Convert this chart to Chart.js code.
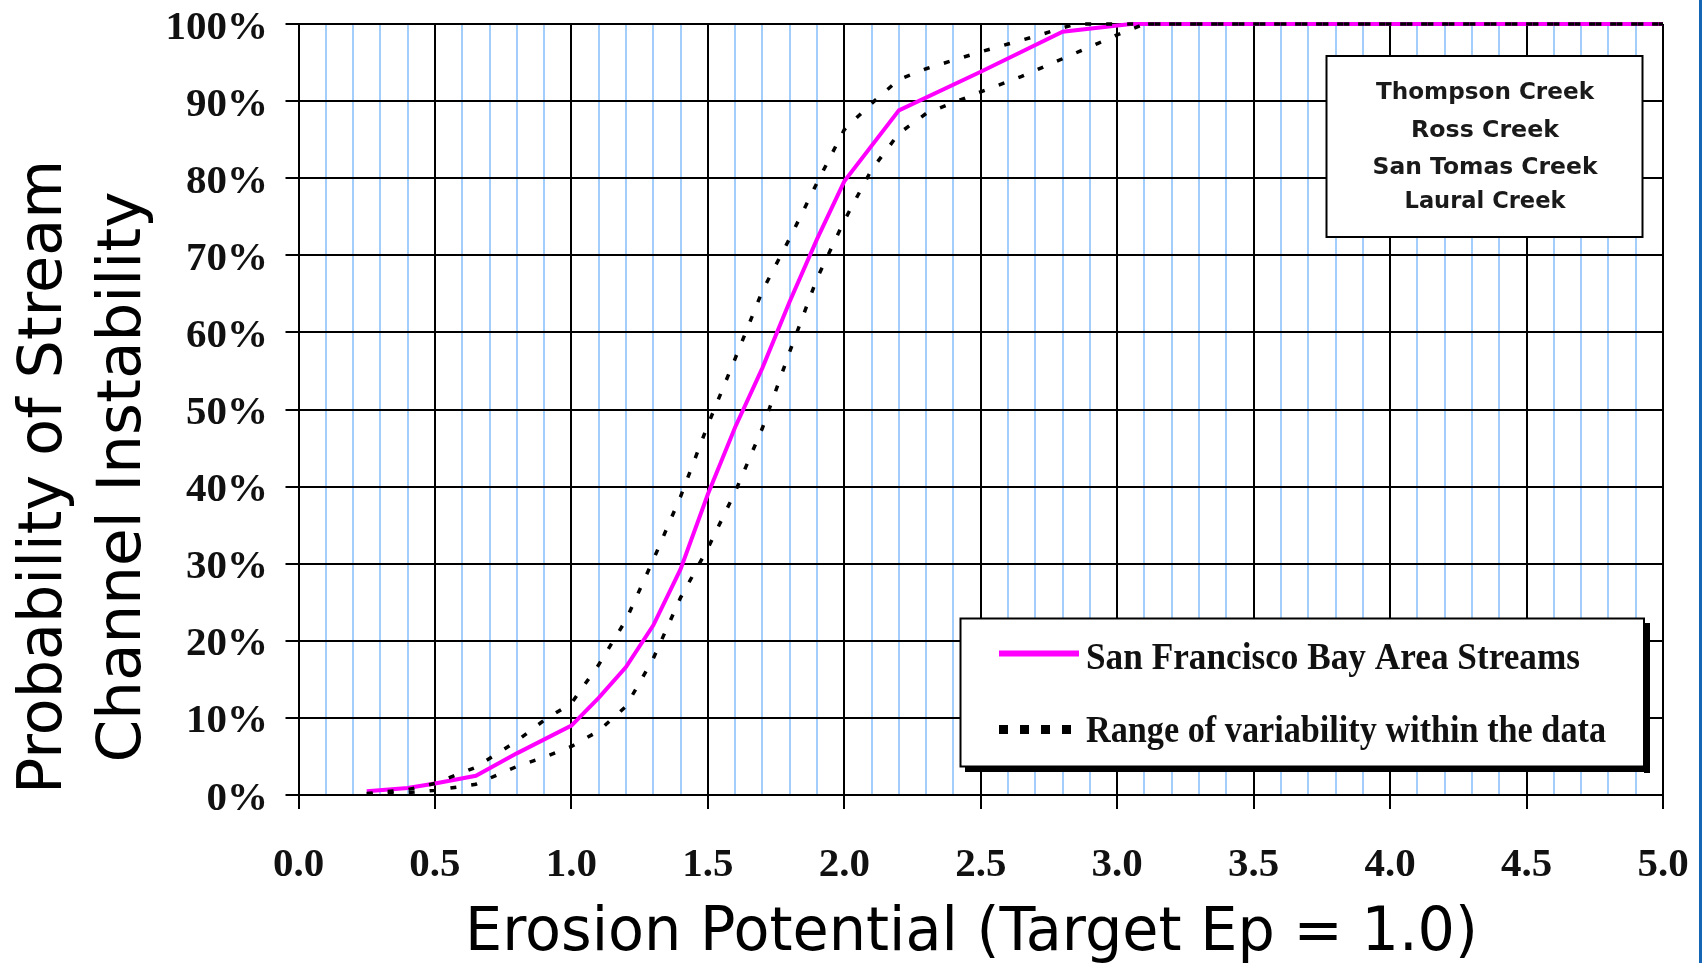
<!DOCTYPE html>
<html><head><meta charset="utf-8">
<script src="https://cdn.jsdelivr.net/npm/chart.js@4.4.1/dist/chart.umd.min.js"></script>
<style>
html,body{margin:0;padding:0;background:#fff;overflow:hidden;}
#wrap{position:relative;width:1702px;height:963px;}
#edge{position:absolute;right:0;top:0;width:3px;height:963px;background:#1565b5;}
canvas{display:block;}
</style></head><body>
<div id="wrap"><canvas id="c" width="1702" height="963"></canvas><div id="edge"></div></div>
<script>
// ---- data ----
const sfX = [0.25, 0.4, 0.5, 0.65, 0.8, 1.0, 1.1, 1.2, 1.3, 1.4, 1.5, 1.6, 1.7, 1.8, 1.9, 2.0, 2.2, 2.5, 2.8, 3.05, 5.0];
const sfY = [0.5, 0.9, 1.5, 2.5, 5.4, 9.0, 12.6, 16.6, 22.0, 29.3, 39.0, 47.7, 55.4, 64.0, 72.1, 79.6, 88.8, 93.8, 99.0, 100, 100];

const upperX = [0.25, 0.4, 0.5, 0.65, 0.8, 0.9, 1.0, 1.1, 1.2, 1.3, 1.4, 1.5, 1.6, 1.7, 1.8, 1.9, 2.0, 2.1, 2.2, 2.3, 2.4, 2.5, 2.6, 2.7, 2.8, 2.85, 5.0];
const upperY = [0.2, 0.7, 1.5, 3.6, 7.0, 9.7, 11.9, 16.9, 22.7, 30.5, 38.7, 48.0, 56.6, 65.4, 72.2, 79.4, 86.3, 89.7, 92.8, 94.2, 95.3, 96.4, 97.4, 98.4, 99.5, 100, 100];

const lowerX = [0.25, 0.4, 0.5, 0.65, 0.8, 0.9, 1.0, 1.1, 1.2, 1.3, 1.4, 1.5, 1.6, 1.7, 1.8, 1.9, 2.0, 2.1, 2.2, 2.3, 2.4, 2.5, 2.65, 2.8, 2.93, 3.0, 3.1, 5.0];
const lowerY = [0.1, 0.3, 0.6, 1.4, 3.7, 4.9, 6.3, 8.3, 11.5, 17.7, 25.6, 32.0, 39.3, 47.6, 57.5, 67.0, 74.5, 81.1, 85.8, 88.4, 89.8, 91.2, 93.2, 95.5, 97.5, 98.6, 100, 100];

const xTickLabels = ['0.0', '0.5', '1.0', '1.5', '2.0', '2.5', '3.0', '3.5', '4.0', '4.5', '5.0'];
const yTickLabels = ['0%', '10%', '20%', '30%', '40%', '50%', '60%', '70%', '80%', '90%', '100%'];
const xTitle = 'Erosion Potential (Target Ep = 1.0)';
const yTitle = ['Probability of Stream', 'Channel Instability'];
const seriesNames = ['San Francisco Bay Area Streams', 'Range of variability within the data'];
const creekNames = ['Thompson Creek', 'Ross Creek', 'San Tomas Creek', 'Laural Creek'];

const toPts = (xs, ys) => xs.map((x, i) => ({x: x, y: ys[i]}));

function fitText(c, text, x, y, w, align) {
  const m = c.measureText(text).width;
  const s = w / m;
  c.save();
  c.translate(x, y);
  c.scale(s, 1);
  c.textAlign = align;
  c.fillText(text, 0, 0);
  c.restore();
}

const annot = {
  id: 'annot',
  afterDraw(chart) {
    const c = chart.ctx;
    c.save();
    c.fillStyle = '#000';
    c.textBaseline = 'alphabetic';

    // y title (two rotated lines)
    c.font = '61px "DejaVu Sans"';
    const yc = 477;
    [[yTitle[0], 61, 634], [yTitle[1], 139.5, 571]].forEach(([t, bx, w]) => {
      c.save();
      c.translate(bx, yc);
      c.rotate(-Math.PI / 2);
      fitText(c, t, 0, 0, w, 'center');
      c.restore();
    });

    // x title
    c.font = '60px "DejaVu Sans"';
    fitText(c, xTitle, 971.5, 950, 1013, 'center');

    // creek box (top right)
    c.fillStyle = '#fff';
    c.fillRect(1326.5, 56, 316, 181);
    c.strokeStyle = '#000';
    c.lineWidth = 2;
    c.strokeRect(1326.5, 56, 316, 181);
    c.fillStyle = '#1a1a1a';
    c.font = 'bold 23px "DejaVu Sans"';
    const cw = [218, 148, 225, 161];
    const cb = [99.3, 136.7, 174, 208.3];
    creekNames.forEach((t, i) => fitText(c, t, 1485, cb[i], cw[i], 'center'));

    // legend box (bottom right) with shadow
    c.fillStyle = '#000';
    c.fillRect(1644, 623, 6, 150);
    c.fillRect(965, 766, 685, 6);
    c.fillStyle = '#fff';
    c.fillRect(960.5, 618.5, 683.5, 148);
    c.strokeStyle = '#000';
    c.lineWidth = 2;
    c.strokeRect(960.5, 618.5, 683.5, 148);

    c.strokeStyle = '#ff00ff';
    c.lineWidth = 6;
    c.beginPath(); c.moveTo(999, 653.5); c.lineTo(1079, 653.5); c.stroke();

    c.strokeStyle = '#000';
    c.lineWidth = 9;
    c.setLineDash([9, 12]);
    c.beginPath(); c.moveTo(999, 729.5); c.lineTo(1071, 729.5); c.stroke();
    c.setLineDash([]);

    c.fillStyle = '#111';
    c.font = 'bold 37px "Liberation Serif"';
    fitText(c, seriesNames[0], 1086, 668.5, 494, 'left');
    fitText(c, seriesNames[1], 1086, 741.5, 520, 'left');
    c.restore();
  }
};

const serif = {family: '"Liberation Serif", "Times New Roman", serif', weight: 'bold', size: 41};

new Chart(document.getElementById('c'), {
  type: 'scatter',
  data: {
    datasets: [
      {label: seriesNames[0], data: toPts(sfX, sfY), showLine: true, borderColor: '#ff00ff', backgroundColor: '#ff00ff',
       borderWidth: 4, pointRadius: 0, tension: 0, order: 2, clip: 8},
      {label: seriesNames[1], data: toPts(upperX, upperY), showLine: true, borderColor: '#000', backgroundColor: '#000',
       borderWidth: 3.5, borderDash: [6, 15], pointRadius: 0, tension: 0, order: 1, clip: 8},
      {label: seriesNames[1] + ' ', data: toPts(lowerX, lowerY), showLine: true, borderColor: '#000', backgroundColor: '#000',
       borderWidth: 3.5, borderDash: [6, 15], pointRadius: 0, tension: 0, order: 1, clip: 8}
    ]
  },
  options: {
    responsive: false,
    animation: false,
    events: [],
    layout: {padding: {left: 0, top: 24, right: 39, bottom: 0}},
    plugins: {legend: {display: false}, tooltip: {enabled: false}, title: {display: false}},
    scales: {
      x: {
        type: 'linear', min: 0, max: 5,
        afterFit: s => { s.height = 168; s.paddingLeft = 0; s.paddingRight = 0; },
        ticks: {
          stepSize: 0.1, autoSkip: false, maxRotation: 0, minRotation: 0, padding: 32,
          font: serif, color: '#111',
          callback: (v, i) => (i % 5 === 0 ? xTickLabels[i / 5] : '')
        },
        grid: {
          color: c => (c.index % 5 === 0 ? '#000' : '#a3cdfb'),
          lineWidth: 2,
          tickLength: 14,
          tickWidth: 2,
          tickColor: c => (c.index % 5 === 0 ? '#000' : 'rgba(0,0,0,0)')
        },
        border: {color: '#000', width: 2}
      },
      y: {
        min: 0, max: 100,
        afterFit: s => { s.width = 298.5; s.paddingTop = 0; s.paddingBottom = 0; },
        ticks: {
          stepSize: 10, padding: 17.5, labelOffset: 4,
          font: serif, color: '#111',
          callback: (v, i) => yTickLabels[i]
        },
        grid: {color: '#000', lineWidth: 2, tickLength: 13, tickWidth: 2, tickColor: '#000'},
        border: {color: '#000', width: 2}
      }
    }
  },
  plugins: [annot]
});
</script>
</body></html>
